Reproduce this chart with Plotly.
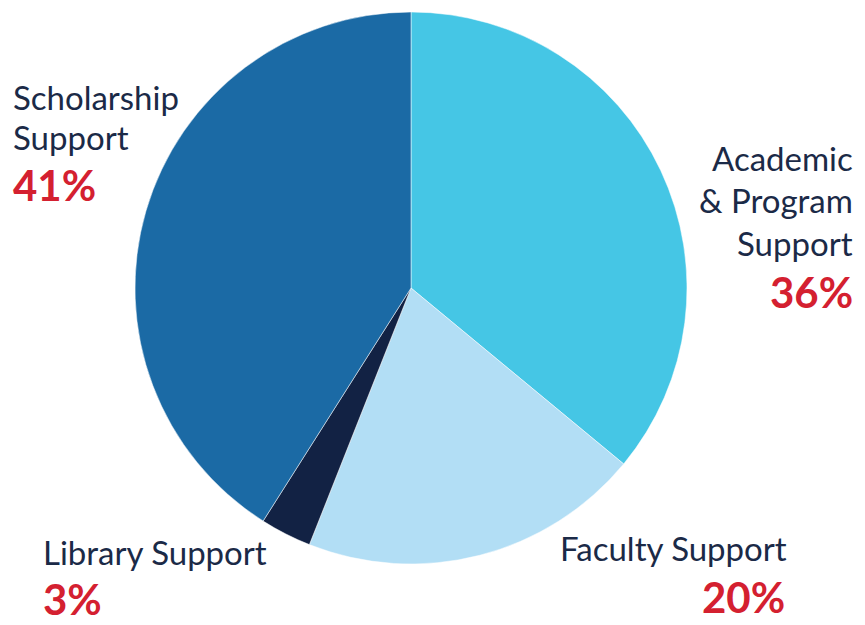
import plotly.graph_objects as go

categories = ["Academic & Program Support", "Faculty Support", "Library Support", "Scholarship Support"]
values = [36, 20, 3, 41]
colors = ["#45C6E5", "#B2DEF5", "#122244", "#1B6AA5"]
pct_labels = ["36%", "20%", "3%", "41%"]

W, H = 865, 625
NAVY = "#1B2A47"
RED = "#D42030"
FONT = "Lato"

fig = go.Figure(go.Pie(
    labels=categories,
    values=values,
    marker=dict(colors=colors, line=dict(color="white", width=0.5)),
    sort=False,
    direction="clockwise",
    rotation=0,
    textinfo="none",
    hoverinfo="label+percent",
    showlegend=False,
    domain=dict(x=[135 / W, 687 / W], y=[1 - 564 / H, 1 - 12 / H]),
))

def px(x):
    return x / W

def py(y):
    return 1 - y / H

anns = []
def add(text, x, y, xanchor, size, color, bold=False):
    t = f"<b>{text}</b>" if bold else text
    anns.append(dict(text=t, x=px(x), y=py(y), xref="paper", yref="paper",
                     xanchor=xanchor, yanchor="middle", showarrow=False,
                     font=dict(family=FONT, size=size, color=color)))

LS = 33
PS = 42
# Scholarship
add("Scholarship", 11, 97, "left", LS, NAVY)
add("Support", 11, 137, "left", LS, NAVY)
add(pct_labels[3], 11, 185, "left", PS, RED, True)
# Academic
add("Academic", 855, 158, "right", LS, NAVY)
add("&amp; Program", 855, 200, "right", LS, NAVY)
add("Support", 855, 243, "right", LS, NAVY)
add(pct_labels[0], 855, 292, "right", PS, RED, True)
# Faculty
add("Faculty Support", 789, 548, "right", LS, NAVY)
add(pct_labels[1], 787, 597, "right", PS, RED, True)
# Library
add("Library Support", 41, 552, "left", LS, NAVY)
add(pct_labels[2], 41, 599, "left", PS, RED, True)

fig.update_layout(
    width=W, height=H,
    margin=dict(l=0, r=0, t=0, b=0),
    paper_bgcolor="white",
    plot_bgcolor="white",
    annotations=anns,
)

fig.write_html("out.html")
